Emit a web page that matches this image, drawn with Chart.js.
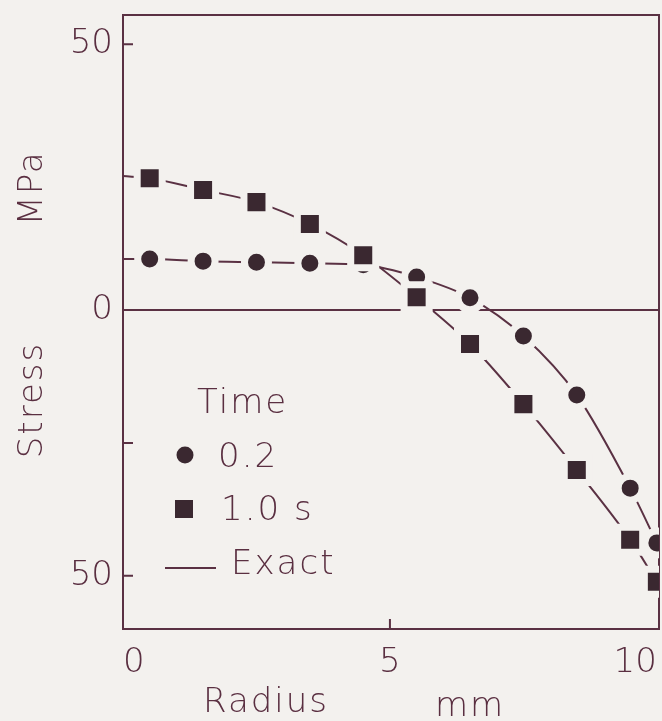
<!DOCTYPE html>
<html>
<head>
<meta charset="utf-8">
<script src="https://cdn.jsdelivr.net/npm/chart.js@4/dist/chart.umd.min.js"></script>
<style>
  html, body { margin: 0; padding: 0; background: #f3f1ee; }
  #wrap { width: 662px; height: 721px; position: relative; }
</style>
</head>
<body>
<div id="wrap"><canvas id="chart1"></canvas></div>
<script>
// Valores (radio en mm, tensión en MPa)
const radius = [0.5, 1.5, 2.5, 3.5, 4.5, 5.5, 6.5, 7.5, 8.5, 9.5, 10];
const stress02 = [9.6, 9.2, 9.0, 8.8, 8.5, 6.2, 2.3, -4.9, -16.0, -33.5, -43.8];
const stress10 = [24.8, 22.6, 20.3, 16.2, 10.3, 2.4, -6.4, -17.7, -30.1, -43.2, -51.1];
const exactAtCentre02 = 9.6;   // curva exacta en r = 0
const exactAtCentre10 = 25.2;
const xTicks = [0, 5, 10];
const yTicks = [-50, -25, 0, 50];
const legendItems = ['0.2', '1.0 s', 'Exact'];

const paperBg = '#f3f1ee';
const ink = '#3a2830';
const axisInk = '#5a3143';
const textInk = '#5a2f41';
const FONT = '"DejaVu Sans", sans-serif';
const WEIGHT = 200;

const pts = (xs, ys) => xs.map((x, i) => ({ x: x, y: ys[i] }));

const data1 = {
  datasets: [
    {
      label: 'Exact 0.2',
      data: pts([0].concat(radius), [exactAtCentre02].concat(stress02)),
      showLine: true, borderColor: axisInk, borderWidth: 2, pointRadius: 0,
      cubicInterpolationMode: 'monotone', order: 3,
    },
    {
      label: 'Exact 1.0 s',
      data: pts([0].concat(radius), [exactAtCentre10].concat(stress10)),
      showLine: true, borderColor: axisInk, borderWidth: 2, pointRadius: 0,
      cubicInterpolationMode: 'monotone', order: 3,
    },
    {
      label: '0.2',
      data: pts(radius, stress02),
      showLine: false, pointStyle: 'circle', pointRadius: 12,
      backgroundColor: ink, pointBorderColor: paperBg, pointBorderWidth: 7, order: 2,
    },
    {
      label: '1.0 s',
      data: pts(radius, stress10),
      showLine: false, pointStyle: 'rect', pointRadius: 17.7,
      backgroundColor: ink, pointBorderColor: paperBg, pointBorderWidth: 7, order: 1,
    },
  ],
};

// Fondo, marco, marcas interiores, títulos y leyenda
const paper = {
  id: 'paper',
  beforeDraw(chart) {
    const ctx = chart.ctx;
    ctx.save();
    ctx.fillStyle = paperBg;
    ctx.fillRect(0, 0, chart.width, chart.height);
    ctx.restore();
  },
  beforeDatasetsDraw(chart) {
    const ctx = chart.ctx, a = chart.chartArea;
    const xs = chart.scales.x, ys = chart.scales.y;
    ctx.save();
    ctx.strokeStyle = axisInk;
    ctx.lineWidth = 2;
    ctx.strokeRect(a.left, a.top, a.right - a.left, a.bottom - a.top);
    ctx.beginPath();
    yTicks.filter(v => v !== 0).forEach(v => {
      const y = ys.getPixelForValue(v);
      ctx.moveTo(a.left, y); ctx.lineTo(a.left + 10, y);
    });
    xTicks.filter(v => v !== 0 && v !== 10).forEach(v => {
      const x = xs.getPixelForValue(v);
      ctx.moveTo(x, a.bottom); ctx.lineTo(x, a.bottom - 10);
    });
    ctx.stroke();
    ctx.restore();
  },
  afterDraw(chart) {
    const ctx = chart.ctx;
    ctx.save();
    ctx.fillStyle = textInk;
    ctx.font = WEIGHT + ' 34px ' + FONT;
    ctx.letterSpacing = '2px';
    ctx.textBaseline = 'alphabetic';
    // títulos de ejes
    ctx.textAlign = 'center';
    ctx.fillText('Radius', 266, 712);
    ctx.fillText('mm', 470, 716);
    ctx.save();
    ctx.translate(42, 400);
    ctx.rotate(-Math.PI / 2);
    ctx.fillText('Stress', 0, 0);
    ctx.restore();
    ctx.save();
    ctx.translate(42, 188);
    ctx.rotate(-Math.PI / 2);
    ctx.fillText('MPa', 0, 0);
    ctx.restore();
    // leyenda
    ctx.textAlign = 'left';
    ctx.fillText('Time', 197, 413);
    ctx.fillText(legendItems[0], 218, 467);
    ctx.fillText(legendItems[1], 221, 520);
    ctx.fillText(legendItems[2], 231, 574);
    ctx.fillStyle = ink;
    ctx.beginPath();
    ctx.arc(185, 455, 8.5, 0, Math.PI * 2);
    ctx.fill();
    ctx.fillRect(175, 500, 18, 18);
    ctx.strokeStyle = axisInk;
    ctx.lineWidth = 2;
    ctx.beginPath();
    ctx.moveTo(165, 568); ctx.lineTo(216, 568);
    ctx.stroke();
    ctx.restore();
  },
};

const config1 = {
  type: 'scatter',
  data: data1,
  plugins: [paper],
  options: {
    responsive: true,
    maintainAspectRatio: false,
    animation: false,
    events: [],
    layout: { autoPadding: false, padding: { top: 15, right: 3, left: 0, bottom: 0 } },
    plugins: { legend: { display: false }, tooltip: { enabled: false } },
    scales: {
      x: {
        type: 'linear', min: 0, max: 10.04,
        afterBuildTicks: s => { s.ticks = xTicks.map(v => ({ value: v })); },
        afterFit: s => { s.height = 92; s.paddingLeft = 0; s.paddingRight = 0; },
        grid: { display: false },
        border: { display: false },
        ticks: { align: 'inner', padding: 6, color: textInk, font: { family: FONT, size: 34, weight: WEIGHT } },
      },
      y: {
        type: 'linear', min: -60, max: 55.5,
        afterBuildTicks: s => { s.ticks = yTicks.map(v => ({ value: v })); },
        afterFit: s => { s.width = 123; s.paddingTop = 0; s.paddingBottom = 0; },
        grid: {
          drawTicks: false, lineWidth: 2,
          color: c => (c.tick && c.tick.value === 0 ? axisInk : 'transparent'),
        },
        border: { display: false },
        ticks: {
          padding: 10, color: textInk, font: { family: FONT, size: 34, weight: WEIGHT },
          callback: v => (v === -25 ? '' : String(Math.abs(v))),
        },
      },
    },
  },
};

new Chart(document.getElementById('chart1'), config1);
</script>
</body>
</html>
